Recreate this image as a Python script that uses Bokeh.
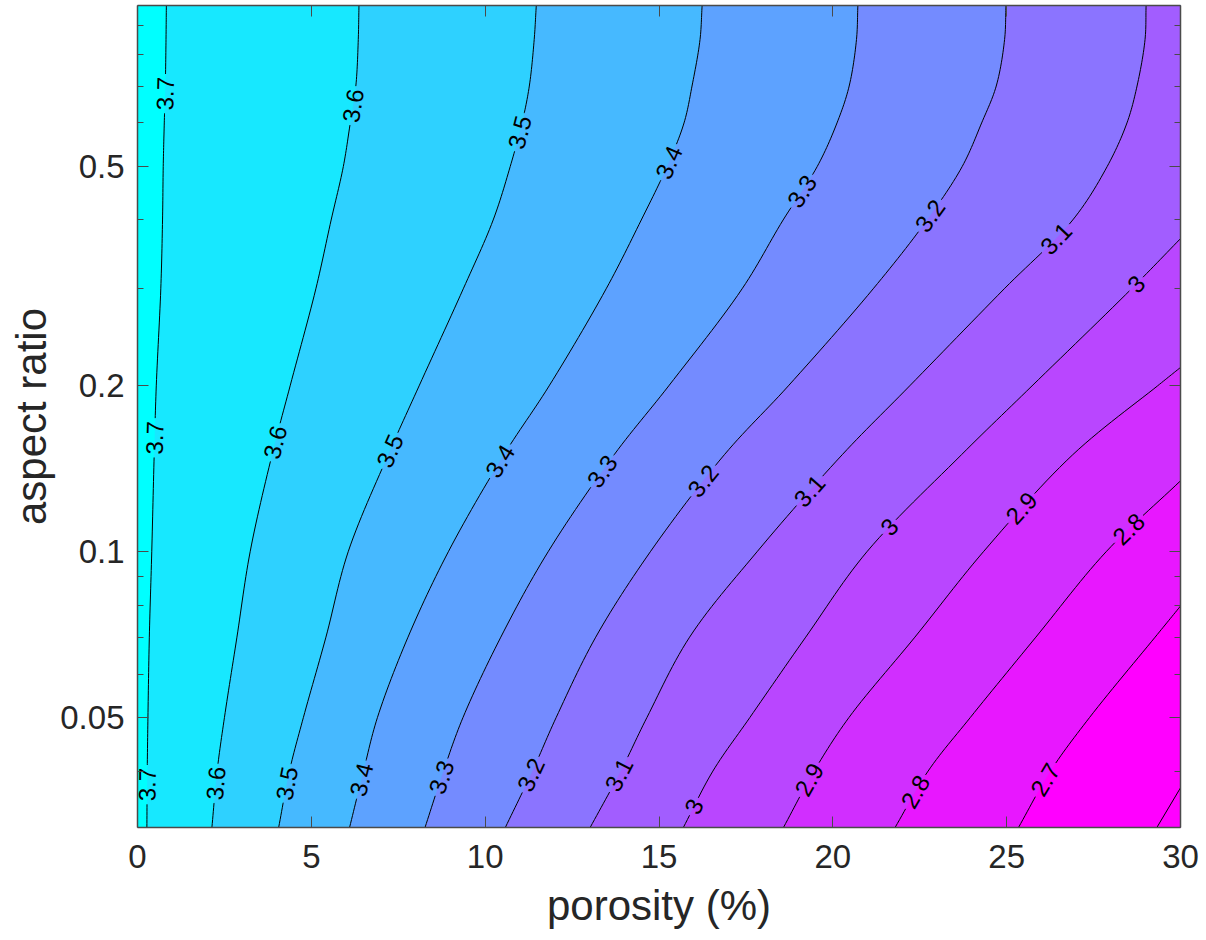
import numpy as np
from bokeh.plotting import figure
from bokeh.models import Range1d, FixedTicker, LinearAxis, LogAxis, CustomJSTickFormatter
from bokeh.core.properties import value
from bokeh.embed import file_html
from bokeh.resources import INLINE

# ---------------- data ----------------
levels = [3.7, 3.6, 3.5, 3.4, 3.3, 3.2, 3.1, 3.0, 2.9, 2.8, 2.7, 2.6]

ar_full = [0.0316, 0.04, 0.05, 0.07, 0.1, 0.15, 0.2, 0.3, 0.4, 0.5, 0.6, 0.7, 0.85, 0.98]
por_37 = [0.27, 0.28, 0.30, 0.34, 0.41, 0.48, 0.54, 0.67, 0.72, 0.74, 0.77, 0.80, 0.82, 0.83]
por_36 = [2.14, 2.29, 2.50, 2.86, 3.24, 3.87, 4.39, 5.13, 5.57, 5.92, 6.12, 6.28, 6.35, 6.37]
por_35 = [4.06, 4.37, 4.77, 5.42, 6.06, 7.21, 8.10, 9.37, 10.23, 10.72, 11.06, 11.27, 11.41, 11.47]
por_34 = [6.10, 6.50, 6.90, 7.78, 8.94, 10.54, 11.84, 13.48, 14.49, 15.23, 15.72, 15.95, 16.18, 16.24]
por_33 = [8.27, 8.80, 9.36, 10.45, 11.81, 13.71, 15.28, 17.39, 18.57, 19.55, 20.12, 20.47, 20.68, 20.72]
por_32 = [10.58, 11.36, 12.04, 13.18, 14.75, 16.88, 18.72, 21.16, 22.71, 23.72, 24.28, 24.70, 24.94, 24.98]
por_31 = [13.02, 13.90, 14.65, 15.88, 17.82, 20.27, 22.21, 24.93, 26.90, 27.89, 28.46, 28.75, 28.98, 29.01]
ar_30 = [0.0316, 0.04, 0.05, 0.07, 0.1, 0.15, 0.2, 0.3, 0.37]
por_30 = [15.70, 16.55, 17.61, 19.22, 20.98, 23.70, 25.73, 28.59, 30.0]
ar_29 = [0.0316, 0.04, 0.05, 0.07, 0.1, 0.15, 0.2, 0.216]
por_29 = [18.58, 19.46, 20.46, 22.36, 24.33, 26.90, 29.34, 30.0]
ar_28 = [0.0316, 0.04, 0.05, 0.07, 0.1, 0.1345]
por_28 = [21.79, 22.74, 23.95, 25.84, 27.86, 30.0]
ar_27 = [0.0316, 0.04, 0.05, 0.07, 0.0797]
por_27 = [25.34, 26.26, 27.38, 29.27, 30.0]
ar_26 = [0.0316, 0.0373]
por_26 = [29.32, 30.0]

contour_por = [por_37, por_36, por_35, por_34, por_33, por_32, por_31,
               por_30, por_29, por_28, por_27, por_26]
contour_ar = [ar_full] * 7 + [ar_30, ar_29, ar_28, ar_27, ar_26]

# aspect ratios at which the inline contour labels sit
label_ar = [
    [0.678, 0.161, 0.0378],   # 3.7
    [0.645, 0.158, 0.038],    # 3.6
    [0.577, 0.1525, 0.038],   # 3.5
    [0.509, 0.146, 0.0386],   # 3.4
    [0.451, 0.140, 0.039],    # 3.3
    [0.407, 0.1345, 0.0394],  # 3.2
    [0.370, 0.129, 0.0394],   # 3.1
    [0.306, 0.111, 0.0345],   # 3.0
    [0.120, 0.0386],          # 2.9
    [0.110, 0.0367],          # 2.8
    [0.0386],                 # 2.7
    [],                       # 2.6
]

x_ticks = [0, 5, 10, 15, 20, 25, 30]
y_ticks = [0.05, 0.1, 0.2, 0.5]
y_minor_ticks = [0.04, 0.06, 0.07, 0.08, 0.09, 0.3, 0.4, 0.6, 0.7, 0.8, 0.9]
x_lim = (0, 30)
y_lim = (0.0316, 0.98)

# ---------------- layout / style ----------------
FW, FH = 1043, 822
FONT = "Liberation Sans"
LABEL_FS = 24
TICK_COLOR = "#262626"


def cool(t):
    t = min(max(t, 0.0), 1.0)
    r = int(round(255 * t))
    return "#%02x%02x%02x" % (r, 255 - r, 255)


ly0, ly1 = np.log10(y_lim[0]), np.log10(y_lim[1])


def to_screen(x, y):
    x = np.asarray(x, float)
    y = np.asarray(y, float)
    return (x - x_lim[0]) / (x_lim[1] - x_lim[0]) * FW, (np.log10(y) - ly0) / (ly1 - ly0) * FH


def to_data(sx, sy):
    sx = np.asarray(sx, float)
    sy = np.asarray(sy, float)
    return sx / FW * (x_lim[1] - x_lim[0]) + x_lim[0], 10 ** (sy / FH * (ly1 - ly0) + ly0)


def smooth_path(sx, sy, n=14):
    """Centripetal Catmull-Rom drawing path through the given screen points."""
    P = np.column_stack([sx, sy])
    if len(P) < 3:
        return P[:, 0], P[:, 1]
    ext = np.vstack([2 * P[0] - P[1], P, 2 * P[-1] - P[-2]])
    out = [P[0]]
    for i in range(1, len(ext) - 2):
        p0, p1, p2, p3 = ext[i - 1], ext[i], ext[i + 1], ext[i + 2]
        t0 = 0.0
        t1 = t0 + max(np.linalg.norm(p1 - p0), 1e-6) ** 0.5
        t2 = t1 + max(np.linalg.norm(p2 - p1), 1e-6) ** 0.5
        t3 = t2 + max(np.linalg.norm(p3 - p2), 1e-6) ** 0.5
        for t in np.linspace(t1, t2, n + 1)[1:]:
            a1 = (t1 - t) / (t1 - t0) * p0 + (t - t0) / (t1 - t0) * p1
            a2 = (t2 - t) / (t2 - t1) * p1 + (t - t1) / (t2 - t1) * p2
            a3 = (t3 - t) / (t3 - t2) * p2 + (t - t2) / (t3 - t2) * p3
            b1 = (t2 - t) / (t2 - t0) * a1 + (t - t0) / (t2 - t0) * a2
            b2 = (t3 - t) / (t3 - t1) * a2 + (t - t1) / (t3 - t1) * a3
            out.append((t2 - t) / (t2 - t1) * b1 + (t - t1) / (t2 - t1) * b2)
    out = np.array(out)
    return out[:, 0], out[:, 1]


def text_width(s, fs):
    return sum(0.278 if ch == "." else 0.556 for ch in s) * fs


p = figure(frame_width=FW, frame_height=FH,
           x_range=Range1d(*x_lim), y_range=Range1d(*y_lim),
           y_axis_type="log", output_backend="svg", toolbar_location=None,
           min_border_left=137, min_border_right=20, min_border_top=5, min_border_bottom=0)
p.background_fill_color = cool(0.0)
p.border_fill_color = "white"
p.outline_line_color = None
p.grid.visible = False

nb = len(levels) - 1  # number of colour steps

paths = []
for por, ar in zip(contour_por, contour_ar):
    sx, sy = to_screen(por, ar)
    paths.append(smooth_path(sx, sy))

# filled bands: region on the low side (right) of every contour, painted in order
for k, (sx, sy) in enumerate(paths):
    dx, dy = to_data(sx, sy)
    xs = [dx[0]] + list(dx)
    ys = [0.028] + list(dy)
    if dx[-1] >= x_lim[1] - 1e-6:
        xs += [31.0, 31.0]
        ys += [dy[-1], 0.028]
    else:
        xs += [dx[-1], 31.0, 31.0]
        ys += [1.05, 1.05, 0.028]
    p.patch(xs, ys, fill_color=cool((k + 1) / nb), line_color=None)

# contour lines with gaps at the labels, plus the labels
line_xs, line_ys = [], []
lab_x, lab_y, lab_t, lab_a = [], [], [], []
for lev, (sx, sy), lars in zip(levels, paths, label_ar):
    seg = np.hypot(np.diff(sx), np.diff(sy))
    s = np.concatenate([[0.0], np.cumsum(seg)])
    txt = f"{lev:g}"
    half = text_width(txt, LABEL_FS) / 2 + 3
    gaps = []
    for yl in lars:
        syl = (np.log10(yl) - ly0) / (ly1 - ly0) * FH
        i = int(np.argmax(sy >= syl)) - 1
        i = min(max(i, 0), len(sy) - 2)
        f = (syl - sy[i]) / (sy[i + 1] - sy[i])
        sxl = sx[i] + f * (sx[i + 1] - sx[i])
        sl = s[i] + f * seg[i]
        j0, j1 = max(i - 3, 0), min(i + 4, len(sx) - 1)
        ang = np.arctan2(sy[j1] - sy[j0], sx[j1] - sx[j0])
        if ang > np.pi / 2:
            ang -= np.pi
        if ang < -np.pi / 2:
            ang += np.pi
        dx, dy = to_data([sxl], [syl])
        lab_x.append(float(dx[0]))
        lab_y.append(float(dy[0]))
        lab_t.append(txt)
        lab_a.append(float(ang))
        gaps.append((sl - half, sl + half))
    gaps.sort()
    keep = []
    start = 0.0
    for a, b in gaps:
        if a > start:
            keep.append((start, a))
        start = max(start, b)
    if start < s[-1]:
        keep.append((start, s[-1]))
    for a, b in keep:
        inner = [j for j in range(len(s)) if a < s[j] < b]
        ts = [a] + [s[j] for j in inner] + [b]
        px = np.interp(ts, s, sx)
        py = np.interp(ts, s, sy)
        dx, dy = to_data(px, py)
        line_xs.append(list(dx))
        line_ys.append(list(dy))

p.multi_line(line_xs, line_ys, line_color="black", line_width=1)
p.text(x=lab_x, y=lab_y, text=lab_t, angle=lab_a,
       text_align="center", text_baseline="middle",
       text_font=value(FONT), text_font_size=f"{LABEL_FS}px", text_color="black")

# ---------------- axes ----------------
AX_COLOR = "#4a4a4a"


def style_axis(ax, labels=True):
    ax.axis_line_color = AX_COLOR
    ax.axis_line_width = 1.5
    ax.major_tick_line_color = AX_COLOR
    ax.minor_tick_line_color = AX_COLOR
    ax.major_tick_in = 11
    ax.major_tick_out = 0
    ax.minor_tick_in = 6
    ax.minor_tick_out = 0
    ax.major_label_text_font = FONT
    ax.major_label_text_color = TICK_COLOR
    ax.axis_label_text_font = FONT
    ax.axis_label_text_font_style = "normal"
    ax.axis_label_text_color = TICK_COLOR
    if labels:
        ax.major_label_text_font_size = "33px"
        ax.axis_label_text_font_size = "42px"
    else:
        ax.major_label_text_font_size = "0px"
        ax.major_label_standoff = 0


xb = p.xaxis[0]
xb.ticker = FixedTicker(ticks=x_ticks)
xb.axis_label = "porosity (%)"
style_axis(xb)
xb.major_label_standoff = 17
xb.axis_label_standoff = 11

yl_ax = p.yaxis[0]
yl_ax.ticker = FixedTicker(ticks=y_ticks, minor_ticks=y_minor_ticks)
yl_ax.formatter = CustomJSTickFormatter(code="return String(tick);")
yl_ax.axis_label = "aspect ratio"
style_axis(yl_ax)
yl_ax.major_label_standoff = 13
yl_ax.axis_label_standoff = 2

xt = LinearAxis(ticker=FixedTicker(ticks=x_ticks))
style_axis(xt, labels=False)
p.add_layout(xt, "above")

yr = LogAxis(ticker=FixedTicker(ticks=y_ticks, minor_ticks=y_minor_ticks))
style_axis(yr, labels=False)
p.add_layout(yr, "right")

open("out.html", "w").write(file_html(p, INLINE))
